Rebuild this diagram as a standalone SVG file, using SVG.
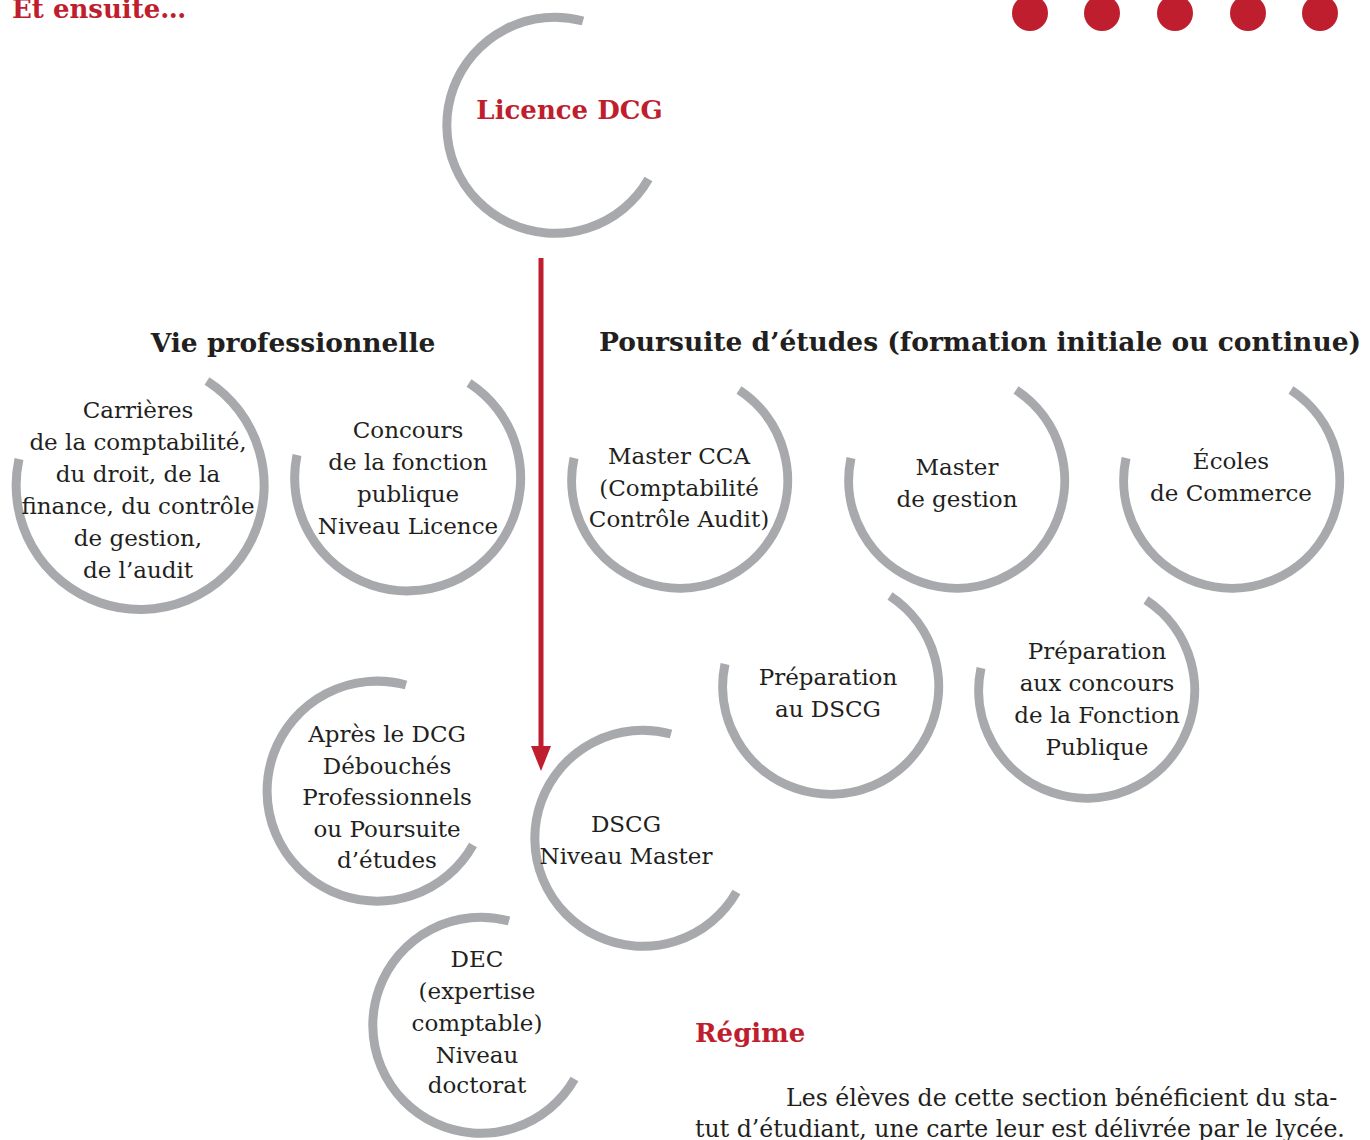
<svg xmlns="http://www.w3.org/2000/svg" width="1370" height="1140" viewBox="0 0 1370 1140">
<defs>
<style>
.arc{fill:none;stroke:#A7A9AC;stroke-width:9}
.t{font-family:"DejaVu Serif","Liberation Serif",serif;font-size:23px;fill:#231F20;text-anchor:middle}
.h{font-family:"DejaVu Serif","Liberation Serif",serif;font-size:26.5px;font-weight:bold;fill:#231F20}
.r{font-family:"DejaVu Serif","Liberation Serif",serif;font-size:26px;font-weight:bold;fill:#BE1E2D}
.p{font-family:"DejaVu Serif","Liberation Serif",serif;font-size:23.6px;fill:#231F20}
.dot{fill:#BE1E2D}
</style>
</defs>
<rect width="1370" height="1140" fill="#FFFFFF"/>

<g id="title">
<text class="r" x="12" y="18">Et ensuite…</text>
</g>
<g id="dots">
<circle class="dot" cx="1030" cy="13" r="18"/>
<circle class="dot" cx="1102" cy="13" r="18"/>
<circle class="dot" cx="1175" cy="13" r="18"/>
<circle class="dot" cx="1248" cy="13" r="18"/>
<circle class="dot" cx="1320" cy="13" r="18"/>
</g>

<g id="connectors">
<line x1="541" y1="258" x2="541" y2="748" stroke="#BE1E2D" stroke-width="5"/>
<path d="M531,746 L551,746 L541,771 Z" fill="#BE1E2D"/>
</g>

<g id="licence">
<path class="arc" d="M583,21 A108,108 0 1 0 648.5,179"/>
<text class="r" x="569.5" y="119" text-anchor="middle">Licence DCG</text>
</g>

<g id="headings">
<text class="h" x="293" y="352" text-anchor="middle">Vie professionnelle</text>
<text class="h" x="980" y="351" text-anchor="middle">Poursuite d’études (formation initiale ou continue)</text>
</g>

<g id="carrieres">
<path class="arc" d="M19,459 A124,124 0 1 0 207,381"/>
<text class="t" x="138" y="418">Carrières</text>
<text class="t" x="138" y="450">de la comptabilité,</text>
<text class="t" x="138" y="482">du droit, de la</text>
<text class="t" x="138" y="514">finance, du contrôle</text>
<text class="t" x="138" y="546">de gestion,</text>
<text class="t" x="138" y="578">de l’audit</text>
</g>

<g id="concours">
<path class="arc" d="M297,455 A113,113 0 1 0 469,383"/>
<text class="t" x="408" y="438">Concours</text>
<text class="t" x="408" y="470">de la fonction</text>
<text class="t" x="408" y="502">publique</text>
<text class="t" x="408" y="534">Niveau Licence</text>
</g>

<g id="mastercca">
<path class="arc" d="M574,458 A108,108 0 1 0 739,390"/>
<text class="t" x="679" y="464">Master CCA</text>
<text class="t" x="679" y="496">(Comptabilité</text>
<text class="t" x="679" y="527">Contrôle Audit)</text>
</g>

<g id="mastergestion">
<path class="arc" d="M851,458 A108,108 0 1 0 1016,390"/>
<text class="t" x="957" y="475">Master</text>
<text class="t" x="957" y="507">de gestion</text>
</g>

<g id="ecoles">
<path class="arc" d="M1126,458 A108,108 0 1 0 1291,390"/>
<text class="t" x="1231" y="469">Écoles</text>
<text class="t" x="1231" y="501">de Commerce</text>
</g>

<g id="prepdscg">
<path class="arc" d="M725,664 A108,108 0 1 0 890,596"/>
<text class="t" x="828" y="685">Préparation</text>
<text class="t" x="828" y="717">au DSCG</text>
</g>

<g id="prepconcours">
<path class="arc" d="M981,668 A108,108 0 1 0 1146,600"/>
<text class="t" x="1097" y="659">Préparation</text>
<text class="t" x="1097" y="691">aux concours</text>
<text class="t" x="1097" y="723">de la Fonction</text>
<text class="t" x="1097" y="755">Publique</text>
</g>

<g id="apres">
<path class="arc" d="M406,685 A110,110 0 1 0 473,845"/>
<text class="t" x="387" y="742">Après le DCG</text>
<text class="t" x="387" y="774">Débouchés</text>
<text class="t" x="387" y="805">Professionnels</text>
<text class="t" x="387" y="837">ou Poursuite</text>
<text class="t" x="387" y="868">d’études</text>
</g>

<g id="dscg">
<path class="arc" d="M671,734 A108,108 0 1 0 736.5,892"/>
<text class="t" x="626" y="832">DSCG</text>
<text class="t" x="626" y="864">Niveau Master</text>
</g>

<g id="dec">
<path class="arc" d="M509,921 A108,108 0 1 0 574.5,1079"/>
<text class="t" x="477" y="967">DEC</text>
<text class="t" x="477" y="999">(expertise</text>
<text class="t" x="477" y="1031">comptable)</text>
<text class="t" x="477" y="1063">Niveau</text>
<text class="t" x="477" y="1093">doctorat</text>
</g>

<g id="regime">
<text class="r" x="695" y="1042">Régime</text>
<text class="p" x="786" y="1106">Les élèves de cette section bénéficient du sta-</text>
<text class="p" x="695" y="1137">tut d’étudiant, une carte leur est délivrée par le lycée.</text>
</g>
</svg>
